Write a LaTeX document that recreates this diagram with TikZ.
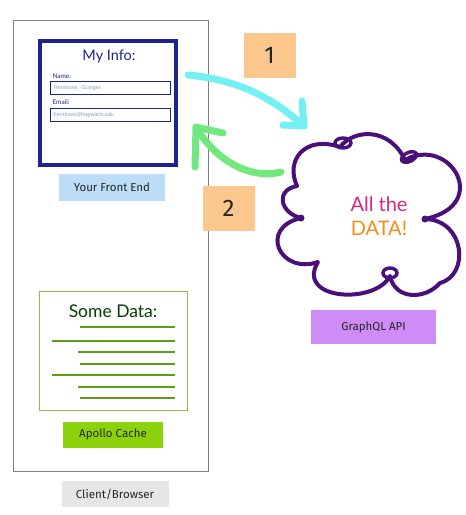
\documentclass[tikz,border=0pt]{standalone}
\usepackage{fontspec}
\setmainfont{Fira Sans}
\newfontfamily\handfont{Lato}
\usetikzlibrary{positioning}

\definecolor{frontblue}{HTML}{BCDDF7}
\definecolor{stepor}{HTML}{FBC78D}
\definecolor{apipurple}{HTML}{CF8BF6}
\definecolor{apolgreen}{HTML}{8CD20B}
\definecolor{clientgray}{HTML}{E6E6E6}
\definecolor{formblue}{HTML}{1C2390}
\definecolor{fieldtxt}{HTML}{8A93C8}
\definecolor{cacheolive}{HTML}{96B948}
\definecolor{cacheline}{HTML}{5E9B18}
\definecolor{cloudpurple}{HTML}{4B0F7A}
\definecolor{datapink}{HTML}{D6277F}
\definecolor{dataorange}{HTML}{F28C1C}
\definecolor{fetchcyan}{HTML}{74F0F5}
\definecolor{backgreen}{HTML}{72E77E}

\begin{document}
\begin{tikzpicture}[
      x=1pt, y=-1pt,
      node distance=7pt,
      tag/.style={
        rectangle,
        inner sep=0pt,
        text=black!85,
        font=\fontsize{11.5}{13}\selectfont,
      },
      stepnum/.style={
        rectangle,
        fill=stepor,
        inner sep=0pt,
        minimum width=52pt,
        minimum height=45pt,
        text=black!85,
        font=\fontsize{24}{26}\selectfont,
      },
      field/.style={
        rectangle,
        draw=formblue,
        line width=1.4pt,
        minimum width=120pt,
        minimum height=13pt,
        inner sep=2pt,
        text width=114pt,
        align=left,
        text=fieldtxt,
        font=\handfont\fontsize{5.5}{6}\selectfont,
      },
      hand/.style={
        font=\handfont\fontsize{#1}{#1}\selectfont,
      },
      handline/.style={
        line width=7pt,
        line cap=round,
        line join=round,
      },
      dataline/.style={
        draw=cacheline,
        line width=2.2pt,
      }
    ]
      \useasboundingbox (0,0) rectangle (466,515);

      % browser frame
      \node[draw=black!50, line width=1pt, minimum width=195pt, minimum height=451pt,
        anchor=north west] (client) at (13,20) {};
      \node[tag, fill=clientgray, minimum width=107pt, minimum height=26pt,
        below=9pt of client, xshift=4pt] (browser) {Client/Browser};

      % the form
      \node[draw=formblue, line width=3.2pt, minimum width=136pt, minimum height=124pt]
        (info) at (108,103) {};
      \node[hand=14.5, text=formblue] (infotitle) at (109,56) {My Info:};
      \node[hand=6.5, text=formblue, anchor=west] (namelbl) at (49,76) {Name:};
      \node[field, anchor=north west] (namefield) at (50,81) {Hermione\ \ Granger};
      \node[hand=6.5, text=formblue, anchor=west] (maillbl) at (49,102) {Email:};
      \node[field, anchor=north west] (mailfield) at (50,108) {hermione@hogwarts.edu};
      \node[tag, fill=frontblue, minimum width=106pt, minimum height=27pt,
        below=7pt of info, xshift=4pt] (front) {Your Front End};

      % the cache
      \node[draw=cacheolive, line width=1pt, minimum width=148pt, minimum height=119pt]
        (cache) at (113,350.5) {};
      \node[hand=17.5, text=black!75!green] (cachetitle) at (113,311) {Some Data:};
      \foreach \y/\xa in {327/80, 341/52, 352/78, 364/80, 375/52, 387/78, 398/80}
        \draw[dataline] (\xa,\y) -- (175,\y);
      \node[tag, fill=apolgreen, minimum width=100pt, minimum height=26pt,
        below=11pt of cache] (apollo) {Apollo Cache};

      % the cloud
      \draw[cloudpurple, line width=4pt, line join=round]
        (297,186) .. controls (285,160) and (305,135) .. (340,147)
        .. controls (355,128) and (390,128) .. (405,160)
        .. controls (450,135) and (492,205) .. (425,219)
        .. controls (465,220) and (470,275) .. (440,283)
        .. controls (425,300) and (395,300) .. (390,276)
        .. controls (375,305) and (295,300) .. (318,262)
        .. controls (280,275) and (258,228) .. (301,218)
        .. controls (280,213) and (275,190) .. cycle;
      \draw[cloudpurple, line width=3.4pt] (343,143) ellipse (8pt and 5pt);
      \draw[cloudpurple, line width=3.4pt, rotate around={25:(409,157)}] (409,157) ellipse (8pt and 4.5pt);
      \draw[cloudpurple, line width=3.4pt] (390,273) ellipse (7pt and 5pt);
      \fill[cloudpurple] (301,218) circle (3.5pt) (425,219) circle (3.5pt);
      \node[hand=20, align=center, inner sep=0pt] (data) at (379,216)
        {\textcolor{datapink}{All the}\\[4pt]\textcolor{dataorange}{DATA!}};
      \node[tag, fill=apipurple, minimum width=125pt, minimum height=34pt]
        (api) at (373.5,327) {GraphQL API};

      % request and response
      \coordinate (fetchA) at (188,75);
      \coordinate (fetchB) at (304,126);
      \draw[handline, fetchcyan] (fetchA) .. controls (240,80) and (272,98) .. (fetchB);
      \draw[handline, fetchcyan] (fetchB) ++(-2,-25) -- (fetchB) -- ++(-21,-1);
      \node[stepnum] (one) at (269.5,55.5) {1};

      \coordinate (backA) at (281,172);
      \coordinate (backB) at (196,127);
      \draw[handline, backgreen] (backA) .. controls (250,180) and (215,160) .. (backB);
      \draw[handline, backgreen] (backB) ++(27,6) -- (backB) -- ++(-1,40);
      \node[stepnum] (two) at (228.5,208) {2};
    \end{tikzpicture}
\end{document}
